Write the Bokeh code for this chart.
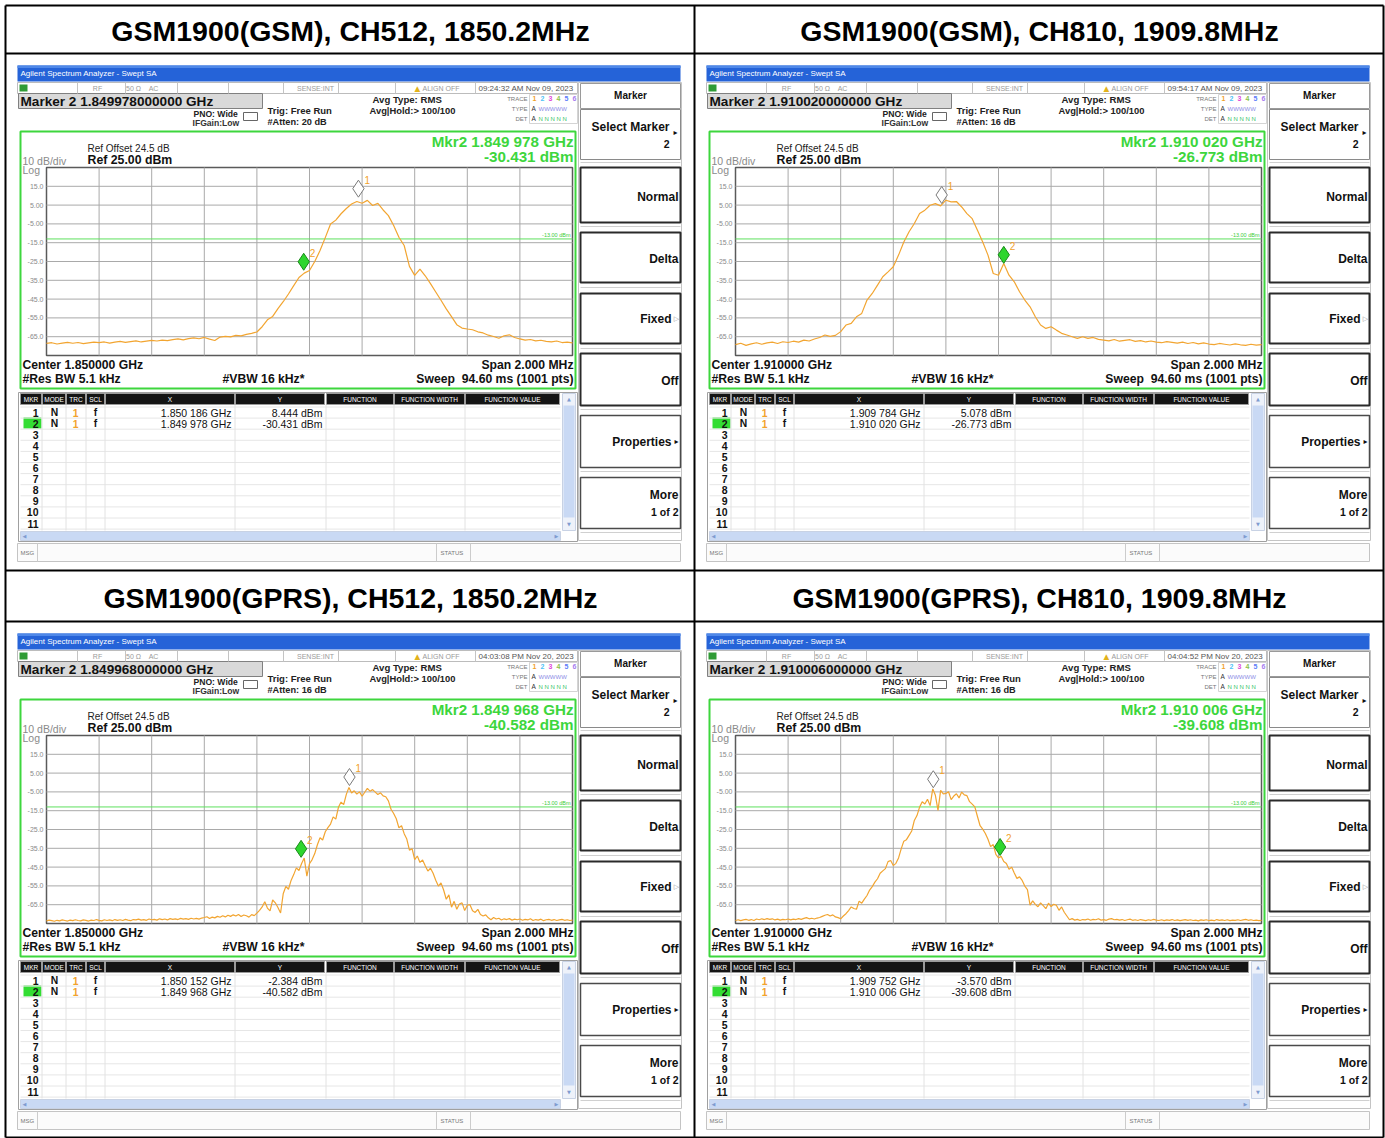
import numpy as np
from bokeh.plotting import figure
from bokeh.models import Range1d, ColumnDataSource
from bokeh.core.properties import value, field
from bokeh.transform import dodge
from bokeh.embed import file_html
from bokeh.resources import INLINE

# ---------------- data ----------------
TITLES = ["GSM1900(GSM), CH512, 1850.2MHz", "GSM1900(GSM), CH810, 1909.8MHz",
          "GSM1900(GPRS), CH512, 1850.2MHz", "GSM1900(GPRS), CH810, 1909.8MHz"]
CENTER_GHZ = [1.850000, 1.910000, 1.850000, 1.910000]
SPAN_MHZ = 2.0
REF_DBM = 25.0
DB_PER_DIV = 10.0
REF_OFFSET_DB = 24.5
DISPLAY_LINE_DBM = -13.0
Y_TICKS = [15, 5, -5, -15, -25, -35, -45, -55, -65]
Y_TICK_LABELS = ["15.0", "5.00", "-5.00", "-15.0", "-25.0", "-35.0", "-45.0", "-55.0", "-65.0"]
MKR1_GHZ = [1.850186, 1.909784, 1.850152, 1.909752]
MKR1_DBM = [8.444, 5.078, -2.384, -3.570]
MKR2_GHZ = [1.849978, 1.910020, 1.849968, 1.910006]
MKR2_DBM = [-30.431, -26.773, -40.582, -39.608]
TIMESTAMPS = ["09:24:32 AM Nov 09, 2023", "09:54:17 AM Nov 09, 2023",
              "04:03:08 PM Nov 20, 2023", "04:04:52 PM Nov 20, 2023"]
ATTEN_DB = [20, 16, 16, 16]

# trace samples across the 2 MHz span (left to right), dBm
TRACE_GSM_CH512 = [
    -68.6, -68.2, -68.9, -68.4, -68.0, -68.5, -68.1, -68.7, -68.3, -67.9, -68.2, -67.8, -68.4, -67.9, -67.5,
    -68.0, -67.6, -67.2, -67.8, -67.4, -67.0,
    -67.3, -66.8, -67.1, -66.6, -66.2, -66.7, -66.0, -65.6, -66.1, -65.4, -66.3, -67.0, -65.2, -64.8, -65.1,
    -64.3, -64.6, -63.8, -63.2,
    -62.5, -59.7, -56.0, -54.2, -50.1, -46.4, -42.3, -37.8, -33.5, -31.2, -29.8, -25.0, -19.2, -12.3, -5.1,
    -3.0, 0.4, 3.2, 5.6, 6.9, 6.0, 7.5, 4.8, 5.9, 2.4, -0.6, -5.9, -12.1, -16.5, -27.6, -32.4, -29.1, -32.6,
    -36.8, -41.2, -45.6, -50.2, -54.3, -58.6, -60.4, -60.9, -61.3, -62.4, -63.0, -64.2, -64.9, -65.8, -64.5,
    -64.0, -65.4, -66.2, -66.8, -66.5, -67.2, -66.9, -67.5, -67.8, -67.3, -68.1, -67.9, -68.3]
TRACE_GSM_CH810 = [
    -69.2, -68.5, -69.6, -68.8, -68.2, -69.0, -68.3, -67.9, -68.6, -67.7, -68.1, -67.4, -67.9, -66.8, -67.3,
    -66.2, -65.4, -64.1, -64.8, -64.3,
    -62.3, -58.8, -57.9, -54.4, -52.6, -45.5, -42.0, -37.6, -33.1, -30.5, -27.8, -21.6, -14.6, -9.2, -4.8,
    0.5, 2.3, 4.9, 5.8, 4.6, 7.6, 6.7, 6.9, 4.0, 0.5, -2.2, -8.4, -14.6, -21.6, -31.4, -32.3, -26.1, -32.3,
    -35.8, -41.1, -45.5, -49.1, -54.4, -58.8, -60.6, -59.7, -61.5, -63.2, -64.1, -65.0, -65.9, -65.0, -65.9,
    -65.4, -66.4, -66.8,
    -67.2, -66.5, -67.4, -67.0, -66.6, -67.5, -67.1, -67.8, -67.3, -67.9, -68.2, -67.6, -68.0, -68.4, -67.9,
    -68.6, -68.1, -68.8, -68.3, -68.9, -69.2, -68.6, -69.0, -69.4, -68.8, -69.3, -69.6, -69.0, -69.5, -69.2]
TRACE_GPRS_CH512 = [
    -73.6, -73.2, -73.5, -73.8, -73.3, -73.6, -73.1, -73.4, -73.7, -73.2,
    -73.5, -73.0, -73.4, -73.6, -73.1, -73.3, -73.7, -73.2, -73.4, -72.9,
    -73.3, -73.6, -73.0, -73.4, -73.1, -73.5, -72.9, -73.3, -73.0, -73.4,
    -72.8, -73.2, -73.5, -72.9, -73.1, -72.7, -73.2, -72.9, -73.3, -72.6,
    -73.0, -72.8, -73.2, -72.5, -72.9, -72.6, -73.1, -72.4, -72.8, -72.5,
    -72.9, -72.3, -72.7, -72.4, -72.8, -72.2, -72.6, -72.3, -72.7, -72.1,
    -71.8, -71.4, -72.3, -71.6, -72.0, -71.2, -71.7, -70.9, -71.5, -70.6,
    -71.2, -70.4, -71.0, -70.2, -71.3, -70.5, -70.9, -71.6, -70.3, -70.8,
    -69.5, -68.0, -66.2, -63.4, -66.8, -68.3, -62.5, -64.0, -66.5, -69.4,
    -59.2, -55.3, -56.8, -52.1, -49.0, -45.4, -46.8, -43.1, -40.2, -49.8,
    -43.2, -41.0, -37.8, -33.1, -29.4, -30.6, -26.2, -24.0, -22.1, -18.3,
    -19.5, -13.2, -10.4, -11.8, -6.3, -2.6, -5.6, -4.4, -6.2, -5.0,
    -7.3, -5.2, -3.1, -4.6, -3.8, -5.1, -6.4, -5.5, -7.1, -7.6,
    -9.8, -14.2, -16.5, -19.3, -24.1, -23.0, -27.2, -30.1, -36.0, -35.2,
    -41.0, -39.1, -42.5, -41.2, -44.3, -47.1, -45.6, -48.3, -52.0, -55.1,
    -53.4, -57.2, -62.1, -59.8, -66.3, -63.2, -67.4, -64.6, -64.0, -68.1,
    -65.3, -65.0, -68.2, -69.1, -67.5, -70.2, -71.0, -70.4, -72.0, -73.0,
    -71.8, -72.6, -72.2, -73.1, -72.5, -72.9, -72.4, -73.2, -72.7, -73.0,
    -72.6, -73.3, -72.8, -73.1, -72.5, -73.4, -72.9, -73.2, -72.7, -73.5,
    -73.0, -72.8, -73.3, -72.9, -73.4, -73.1, -72.8, -73.3, -73.0, -73.4, -73.2]
TRACE_GPRS_CH810 = [
    -73.4, -73.0, -73.5, -73.1, -72.8, -73.3, -72.9, -73.4, -72.6, -73.0,
    -72.5, -72.9, -72.4, -72.8, -72.5, -73.1, -72.7, -73.2, -72.8, -73.0,
    -72.6, -73.1, -72.7, -72.9, -72.4, -72.8, -72.3, -71.9, -72.5, -72.2,
    -72.6, -72.1, -71.8, -71.2, -70.6, -70.2, -71.0, -70.4, -71.5, -71.9,
    -72.5, -71.0, -69.8, -68.1, -66.2, -67.0, -67.4, -63.1, -64.2, -62.0,
    -60.1, -57.2, -55.4, -53.0, -51.2, -48.3, -47.0, -45.8, -42.1, -41.5,
    -44.2, -43.0, -40.1, -35.3, -31.2, -30.4, -28.1, -25.8, -20.2, -17.6,
    -13.1, -10.2, -11.4, -8.9, -12.3, -3.4, -6.8, -14.8, -4.2, -6.1,
    -5.8, -4.9, -9.1, -7.2, -6.0, -8.2, -5.1, -6.6, -7.0, -10.2,
    -11.5, -13.0, -18.1, -23.0, -24.8, -27.1, -30.2, -34.1, -33.0, -38.2,
    -40.1, -39.2, -42.0, -43.1, -46.2, -45.0, -48.1, -51.0, -50.2, -52.1,
    -55.1, -57.0, -65.2, -63.0, -64.8, -66.1, -64.0, -65.5, -67.1, -64.2,
    -66.0, -64.8, -65.3, -68.0, -66.2, -69.0, -71.0, -73.0, -72.4, -73.2,
    -72.8, -73.4, -72.9, -73.1, -72.6, -73.3, -72.8, -73.0, -72.5, -73.2,
    -72.9, -73.3, -72.7, -72.4, -73.0, -72.8, -73.2, -72.9, -73.4, -73.0,
    -72.7, -73.3, -73.0, -73.4, -72.9, -73.2, -73.5, -73.0, -73.3, -72.8,
    -73.2, -73.4, -73.0, -73.5, -73.1, -73.3, -72.9, -73.4, -73.1, -73.5,
    -73.2, -72.9, -73.3, -73.0, -73.4, -73.2, -73.6, -73.1, -73.3, -73.0,
    -73.4, -73.2, -73.5, -72.9, -73.3, -73.1, -73.4, -73.0, -73.5, -73.2,
    -73.3, -73.0, -73.4, -73.1, -72.8, -73.3, -73.0, -73.4, -73.2, -73.5, -73.3]
TRACES = [TRACE_GSM_CH512, TRACE_GSM_CH810, TRACE_GPRS_CH512, TRACE_GPRS_CH810]

TRACE_COLORS = ["#f2a22c", "#4fc3f7", "#e04ad8", "#8bc34a", "#5c7cfa", "#a77cf0"]
TABLE_COLS = ["MKR", "MODE", "TRC", "SCL", "X", "Y", "FUNCTION", "FUNCTION WIDTH", "FUNCTION VALUE"]

# ---------------- layout (reference pixel space) ----------------
X0, X1, Y0, Y1 = 0, 1385, 0, 1138
W, H = 1385, 1138
OFFS = [(0, 0), (689, 0), (0, 568), (689, 568)]
GX0, GX1, GY0, GY1 = 46, 572, 167, 355
FONT = "Liberation Sans"
SYM = "DejaVu Sans"

p = figure(width=W, height=H, x_range=Range1d(X0, X1), y_range=Range1d(Y1, Y0),
           output_backend="svg", toolbar_location=None, min_border=0,
           x_axis_location=None, y_axis_location=None)
p.xgrid.grid_line_color = None
p.ygrid.grid_line_color = None
p.outline_line_color = None
p.background_fill_color = "white"
p.border_fill_color = "white"

xr, yr = {}, {}
for i, (dx, dy) in enumerate(OFFS):
    fl = CENTER_GHZ[i] * 1000 - SPAN_MHZ / 2
    mpp = SPAN_MHZ / (GX1 - GX0)
    xr[f"f{i}"] = Range1d(fl + (X0 - (GX0 + dx)) * mpp, fl + (X1 - (GX0 + dx)) * mpp)
    bot = REF_DBM - 10 * DB_PER_DIV
    dpp = (REF_DBM - bot) / (GY1 - GY0)
    yr[f"a{i}"] = Range1d(REF_DBM - (Y1 - (GY0 + dy)) * dpp, REF_DBM - (Y0 - (GY0 + dy)) * dpp)
p.extra_x_ranges = xr
p.extra_y_ranges = yr

Q = {k: [] for k in ("l", "r", "t", "b", "fill", "fa", "lc", "lw", "la")}
LN = {"xs": [], "ys": [], "c": [], "w": []}
T = {k: [] for k in ("x", "y", "s", "size", "color", "style", "align", "font")}


def rect(l, t, r, b, fill=None, line=None, lw=1.0):
    Q["l"].append(l); Q["r"].append(r); Q["t"].append(t); Q["b"].append(b)
    Q["fill"].append(fill or "white"); Q["fa"].append(1.0 if fill else 0.0)
    Q["lc"].append(line or "black"); Q["la"].append(1.0 if line else 0.0); Q["lw"].append(lw)


def seg(x0, y0, x1, y1, c="#000000", w=1.0):
    LN["xs"].append([x0, x1]); LN["ys"].append([y0, y1]); LN["c"].append(c); LN["w"].append(w)


def txt(x, y, s, size=9, color="#111111", bold=False, align="left", font=FONT):
    T["x"].append(x); T["y"].append(y); T["s"].append(s); T["size"].append(f"{size}px")
    T["color"].append(color); T["style"].append("bold" if bold else "normal")
    T["align"].append(align); T["font"].append(font)


def spaced(ghz):
    s = f"{ghz:.6f}"
    return s[:5] + " " + s[5:]


# outer table
for (a, b, c, d) in [(5, 5, 1383, 5), (5, 1137, 1383, 1137), (5, 5, 5, 1137), (1383, 5, 1383, 1137),
                     (694, 5, 694, 1137), (5, 53, 1383, 53), (5, 570, 1383, 570), (5, 621, 1383, 621)]:
    seg(a, b, c, d, "#000000", 2)
for i, (cx, cy) in enumerate([(350, 30), (1039, 30), (350, 597), (1039, 597)]):
    txt(cx, cy, TITLES[i], 28.5, "#000000", True, "center")


def chrome(i, dx, dy):
    X = lambda x: x + dx
    Y = lambda y: y + dy
    # title bar
    rect(X(17), Y(65), X(680), Y(81), fill="#2563d8")
    rect(X(17), Y(65), X(680), Y(67.5), fill="#4f88e8")
    txt(X(20), Y(73), "Agilent Spectrum Analyzer - Swept SA", 8, "#ffffff")
    # status row
    rect(X(17), Y(82), X(577), Y(93), fill="#ffffff", line="#bcbcbc")
    for sx in (77, 125, 177, 228, 283, 338, 395, 475):
        seg(X(sx), Y(82), X(sx), Y(93), "#c4c4c4", 1)
    rect(X(19), Y(84), X(27), Y(91), fill="#2f9b35")
    for sx, s in ((97, "RF"), (133, "50 Ω"), (153, "AC"), (315, "SENSE:INT")):
        txt(X(sx), Y(87.5), s, 7, "#9a9a9a", align="center")
    txt(X(417), Y(87.5), "▲", 7.5, "#e2b21c", align="center", font=SYM)
    txt(X(422), Y(87.5), "ALIGN OFF", 7, "#9a9a9a")
    txt(X(478), Y(87.5), TIMESTAMPS[i], 8, "#555555")
    # marker readout box
    rect(X(18), Y(93), X(262), Y(108), fill="#d9d9d9", line="#808080")
    txt(X(20), Y(101), f"Marker 2 {MKR2_GHZ[i]:.12f} GHz", 13.6, "#111111", True)
    txt(X(193), Y(113), "PNO: Wide", 8.6, "#222222", True)
    txt(X(192), Y(122), "IFGain:Low", 8.6, "#333333", True)
    rect(X(243), Y(112), X(257), Y(120), line="#666666")
    txt(X(267), Y(110), "Trig: Free Run", 9.5, "#222222", True)
    txt(X(267), Y(121), f"#Atten: {ATTEN_DB[i]} dB", 9.2, "#222222", True)
    txt(X(372), Y(99), "Avg Type: RMS", 9.6, "#222222", True)
    txt(X(369), Y(110), "Avg|Hold:> 100/100", 9.4, "#222222", True)
    txt(X(527), Y(98), "TRACE", 6, "#777777", align="right")
    txt(X(527), Y(108), "TYPE", 6, "#777777", align="right")
    txt(X(527), Y(118), "DET", 6, "#777777", align="right")
    rect(X(529), Y(94), X(577), Y(123), line="#d4d4d4")
    for j, d in enumerate("123456"):
        txt(X(534 + 8 * j), Y(98), d, 7, TRACE_COLORS[j], True, "center")
    txt(X(531), Y(108), "A", 6.5, "#333333")
    txt(X(538), Y(108), "WWWWW", 6, "#8d8de6")
    txt(X(531), Y(118), "A", 6.5, "#333333")
    txt(X(538), Y(118), "N N N N N", 6, "#37c46a")
    # measurement frame
    rect(X(20), Y(131), X(575), Y(388), line="#3dd63d", lw=2)
    txt(X(87), Y(148), f"Ref Offset {REF_OFFSET_DB} dB", 10, "#222222")
    txt(X(22), Y(160), f"{DB_PER_DIV:.0f} dB/div", 10.5, "#8a8a8a")
    txt(X(87), Y(159.5), f"Ref {REF_DBM:.2f} dBm", 12.3, "#111111", True)
    txt(X(22), Y(169), "Log", 10.5, "#8a8a8a")
    txt(X(573), Y(141), f"Mkr2 {spaced(MKR2_GHZ[i])} GHz", 15.2, "#3dd63d", True, "right")
    txt(X(573), Y(156), f"{MKR2_DBM[i]:.3f} dBm", 15.2, "#3dd63d", True, "right")
    txt(X(22), Y(364), f"Center {CENTER_GHZ[i]:.6f} GHz", 12.2, "#111111", True)
    txt(X(573), Y(364), f"Span {SPAN_MHZ:.3f} MHz", 12.2, "#111111", True, "right")
    txt(X(22), Y(378), "#Res BW 5.1 kHz", 12.2, "#111111", True)
    txt(X(222), Y(378), "#VBW 16 kHz*", 12.2, "#111111", True)
    txt(X(573), Y(378), "Sweep\u00a0\u00a094.60 ms (1001 pts)", 12.2, "#111111", True, "right")
    # marker table
    rect(X(18), Y(392), X(577), Y(541), fill="#ffffff", line="#a0a0a0")
    cols = [(20, 41), (42, 65), (66, 85), (86, 104), (105, 234), (235, 324), (326, 393), (394, 464), (465, 559)]
    for (a, b), name in zip(cols, TABLE_COLS):
        rect(X(a), Y(393), X(b), Y(404), fill="#141414", line="#9a9a9a")
        txt(X((a + b) / 2), Y(398.5), name, 6.5, "#ffffff", align="center")
    for k in range(12):
        yy = 406.5 + 11.1 * k
        seg(X(20), Y(yy), X(560), Y(yy), "#e6e6e6", 1)
    for (a, b) in cols[1:]:
        seg(X(a - 0.5), Y(404), X(a - 0.5), Y(530), "#e2e2e2", 1)
    rect(X(23), Y(417), X(41), Y(428), fill="#33dd33")
    for k in range(11):
        txt(X(38), Y(412 + 11.1 * k), str(k + 1), 10.5, "#111111", True, "right")
    for k, (fg, dbm) in enumerate([(MKR1_GHZ[i], MKR1_DBM[i]), (MKR2_GHZ[i], MKR2_DBM[i])]):
        yy = 412 + 11.1 * k
        txt(X(54), Y(yy), "N", 10.3, "#111111", True, "center")
        txt(X(75), Y(yy), "1", 10.3, "#f2a22c", True, "center")
        txt(X(95), Y(yy), "f", 10.3, "#111111", True, "center")
        txt(X(231), Y(yy), f"{spaced(fg)} GHz", 10.5, "#111111", False, "right")
        txt(X(322), Y(yy), f"{dbm:.3f} dBm", 10.5, "#111111", False, "right")
    # scroll bars
    rect(X(562), Y(393), X(575), Y(530), fill="#eef2fa", line="#c8d2e4")
    rect(X(563), Y(405), X(574), Y(517), fill="#c9d9f4")
    txt(X(568.5), Y(398.5), "▲", 5, "#7f9bd0", align="center", font=SYM)
    txt(X(568.5), Y(523), "▼", 5, "#7f9bd0", align="center", font=SYM)
    rect(X(20), Y(531), X(560), Y(540), fill="#c9d9f4", line="#c8d2e4")
    txt(X(24), Y(535.5), "◀", 5, "#7f9bd0", align="center", font=SYM)
    txt(X(556), Y(535.5), "▶", 5, "#7f9bd0", align="center", font=SYM)
    # message bar
    rect(X(17), Y(543), X(680), Y(561), fill="#fbfbfb", line="#c4c4c4")
    for sx in (37, 436, 470):
        seg(X(sx), Y(543), X(sx), Y(561), "#cccccc", 1)
    txt(X(20), Y(552), "MSG", 6, "#777777")
    txt(X(440), Y(552), "STATUS", 6, "#777777")
    # soft keys
    rect(X(578), Y(82), X(681), Y(540), fill="#ffffff", line="#c4c4c4")
    rect(X(580), Y(83), X(680), Y(108), line="#9a9a9a")
    txt(X(630), Y(95), "Marker", 10, "#111111", True, "center")
    rect(X(580), Y(109), X(680), Y(159), line="#8a8a8a")
    txt(X(669), Y(126), "Select Marker", 12, "#111111", True, "right")
    txt(X(675), Y(132), "▸", 8, "#111111", align="center", font=SYM)
    txt(X(669), Y(143), "2", 10.5, "#111111", True, "right")
    for sy in (162, 226, 287, 348, 409, 471, 532):
        seg(X(580), Y(sy), X(680), Y(sy), "#d0d0d0", 1)
    for (t, b, lab) in ((167, 222, "Normal"), (232, 282, "Delta"), (293, 343, None), (353, 405, "Off")):
        rect(X(580), Y(t), X(680), Y(b), line="#2a2a2a", lw=2)
        if lab:
            txt(X(678), Y((t + b) / 2 + 1.5), lab, 12, "#111111", True, "right")
    txt(X(671), Y(318), "Fixed", 12, "#111111", True, "right")
    txt(X(676), Y(318), "▷", 7, "#999999", align="center", font=SYM)
    rect(X(580), Y(415), X(680), Y(467), line="#4a4a4a", lw=1.5)
    txt(X(671), Y(441), "Properties", 12, "#111111", True, "right")
    txt(X(676), Y(441), "▸", 8, "#111111", align="center", font=SYM)
    rect(X(580), Y(477), X(680), Y(528), line="#4a4a4a", lw=1.5)
    txt(X(678), Y(494), "More", 12, "#111111", True, "right")
    txt(X(678), Y(511), "1 of 2", 10.5, "#111111", True, "right")


for i, (dx, dy) in enumerate(OFFS):
    chrome(i, dx, dy)

p.quad(left="l", right="r", top="t", bottom="b", source=ColumnDataSource(Q),
       fill_color=field("fill"), fill_alpha=field("fa"), line_color=field("lc"),
       line_width=field("lw"), line_alpha=field("la"))
p.multi_line(xs="xs", ys="ys", source=ColumnDataSource(LN), line_color=field("c"), line_width=field("w"))

# ---------------- spectrum graticules, traces and markers ----------------
for i, (dx, dy) in enumerate(OFFS):
    xn, yn = f"f{i}", f"a{i}"
    c = CENTER_GHZ[i] * 1000
    fl, fh = c - SPAN_MHZ / 2, c + SPAN_MHZ / 2
    bot = REF_DBM - 10 * DB_PER_DIV
    p.quad(left=[fl], right=[fh], top=[REF_DBM], bottom=[bot], fill_color="white",
           line_color="#5a5a5a", line_width=1.5, x_range_name=xn, y_range_name=yn)
    gx = [fl + SPAN_MHZ / 10 * k for k in range(1, 10)]
    gy = [REF_DBM - DB_PER_DIV * k for k in range(1, 10)]
    p.multi_line(xs=[[g, g] for g in gx] + [[fl, fh] for _ in gy],
                 ys=[[bot, REF_DBM] for _ in gx] + [[g, g] for g in gy],
                 line_color="#a9a9a9", line_width=1, x_range_name=xn, y_range_name=yn)
    p.line([fl, fh], [DISPLAY_LINE_DBM] * 2, line_color="#5ee05e", line_width=1,
           x_range_name=xn, y_range_name=yn)
    p.text(x=[fh], y=[DISPLAY_LINE_DBM], text=[f"{DISPLAY_LINE_DBM:.2f} dBm"], x_offset=-2, y_offset=-1,
           text_font=value(FONT), text_font_size="5.5px", text_color="#3ccc3c", text_align="right",
           text_baseline="bottom", x_range_name=xn, y_range_name=yn)
    p.text(x=[GX0 - 3 + dx] * len(Y_TICKS), y=Y_TICKS, text=Y_TICK_LABELS, text_font=value(FONT),
           text_font_size="7px", text_color="#8a8a8a", text_align="right", text_baseline="middle",
           y_range_name=yn)
    tr = TRACES[i]
    fx = c + np.linspace(-SPAN_MHZ / 2, SPAN_MHZ / 2, len(tr))
    p.line(fx, tr, line_color="#f2a531", line_width=1.2, x_range_name=xn, y_range_name=yn)
    msrc = ColumnDataSource(dict(x=[MKR1_GHZ[i] * 1000, MKR2_GHZ[i] * 1000], y=[MKR1_DBM[i], MKR2_DBM[i]],
                                 fill=["#ffffff", "#2ed62e"], line=["#7a7a7a", "#1a8a1a"], lab=["1", "2"]))
    p.scatter(x="x", y=dodge("y", 5.3), source=msrc, marker="diamond", size=17,
              fill_color=field("fill"), line_color=field("line"), line_width=1,
              x_range_name=xn, y_range_name=yn)
    p.text(x="x", y=dodge("y", 5.3), text="lab", source=msrc, x_offset=6, y_offset=-9,
           text_font=value(FONT), text_font_size="10px", text_color="#f2a22c",
           text_baseline="middle", x_range_name=xn, y_range_name=yn)

p.text(x="x", y="y", text="s", source=ColumnDataSource(T), text_font=field("font"),
       text_font_size=field("size"), text_color=field("color"), text_font_style=field("style"),
       text_align=field("align"), text_baseline="middle")

open("out.html", "w").write(file_html(p, INLINE))
